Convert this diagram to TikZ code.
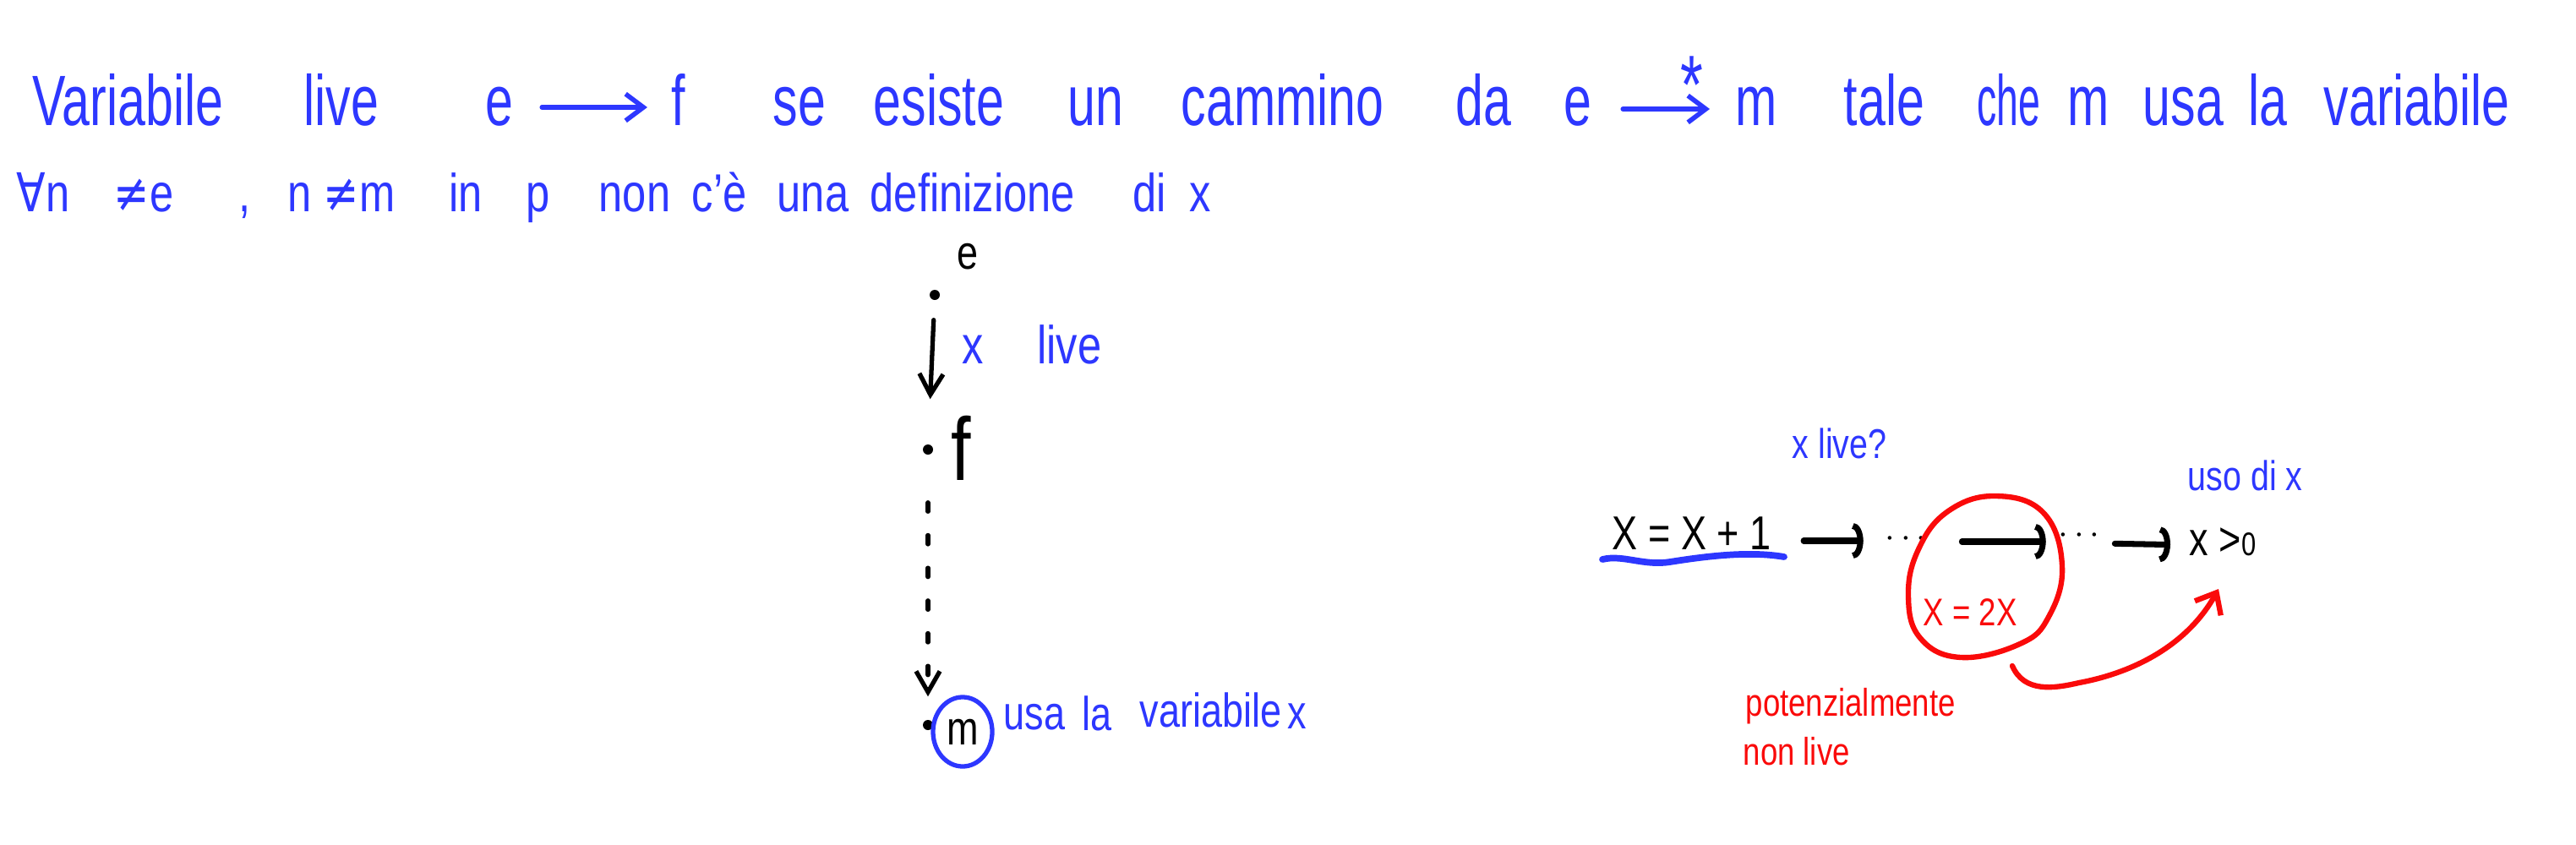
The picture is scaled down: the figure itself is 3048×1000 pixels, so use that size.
\documentclass[tikz,border=0pt]{standalone}
\usepackage{fontspec}
\setmainfont[FakeStretch=0.8]{Liberation Sans}
\newfontfamily\condf[FakeStretch=0.7]{Liberation Sans}
\newfontfamily\narrf[FakeStretch=0.55]{Liberation Sans}
\newfontfamily\symf[FakeStretch=0.8]{DejaVu Sans}
\usetikzlibrary{arrows.meta,shapes.geometric,calc}
\definecolor{hblue}{RGB}{45,55,255}
\definecolor{hred}{RGB}{250,10,10}
\tikzset{
  txt/.style={inner sep=0pt, anchor=base west},
  lone/.style={txt, text=hblue, font={\condf\fontsize{24}{28}\selectfont}},
  ltwo/.style={txt, text=hblue, font={\fontsize{18}{22}\selectfont}},
  midb/.style={txt, text=black, font={\fontsize{16}{20}\selectfont}},
  midbl/.style={txt, text=hblue, font={\fontsize{16}{20}\selectfont}},
  rblack/.style={txt, text=black, font={\fontsize{16}{20}\selectfont}},
  rblue/.style={txt, text=hblue, font={\fontsize{14}{18}\selectfont}},
  rred/.style={txt, text=hred, font={\fontsize{13}{16}\selectfont}},
  dotn/.style={circle, fill=black, inner sep=0pt, minimum size=0.12cm},
  tarr/.style={hblue, line width=1.6pt, line cap=round, -{Straight Barb[length=6pt,width=9pt]}},
  varr/.style={black, line width=1.5pt, line cap=round, -{Straight Barb[length=7pt,width=8pt]}},
  rarr/.style={black, line width=2pt, line cap=round, -{Arc Barb[length=3.5pt,width=12pt]}},
  dotsn/.style={inner sep=0pt, text=black, font={\fontsize{12}{14}\selectfont}}
}
\begin{document}
\begin{tikzpicture}[x=0.01cm,y=-0.01cm]
\useasboundingbox (0,0) rectangle (3048,1000);
\fill[white] (0,0) rectangle (3048,1000);

% line 1
\node[lone] (w1) at (38,148) {Variabile};
\node[lone] (w2) at (359,148) {live};
\node[lone] (e1) at (574,148) {e};
\node[lone] (f1) at (794,148) {f};
\node[lone] (w3) at (914,148) {se};
\node[lone] (w4) at (1033,148) {esiste};
\node[lone] (w5) at (1263,148) {un};
\node[lone] (w6) at (1397,148) {cammino};
\node[lone] (w7) at (1722,148) {da};
\node[lone] (e2) at (1850,148) {e};
\node[lone] (m1) at (2053,148) {m};
\node[lone] (w8) at (2181,148) {tale};
\node[lone, font={\narrf\fontsize{24}{28}\selectfont}] (w9) at (2339,148) {che};
\node[lone] (w10) at (2446,148) {m};
\node[lone] (w11) at (2535,148) {usa};
\node[lone] (w12) at (2660,148) {la};
\node[lone] (w13) at (2749,148) {variabile};
\node[txt, text=hblue, font={\condf\fontsize{28}{32}\selectfont}] (star) at (1988,134) {*};
\draw[tarr, shorten <=0.33cm, shorten >=0.28cm] ($(e1.base east)+(0,-21)$) -- ($(f1.base west)+(0,-21)$);
\draw[tarr, shorten <=0.36cm, shorten >=0.30cm] ($(e2.base east)+(0,-19)$) -- ($(m1.base west)+(0,-19)$);

% line 2
\node[ltwo] (v1) at (19,250) {{\symf ∀}n};
\node[ltwo] (v2) at (134,250) {{\symf ≠}e};
\node[ltwo] (v3) at (282,250) {,};
\node[ltwo] (v4) at (340,250) {n {\symf ≠}m};
\node[ltwo] (v5) at (531,250) {in};
\node[ltwo] (v6) at (622,250) {p};
\node[ltwo] (v7) at (708,250) {non};
\node[ltwo] (v8) at (818,250) {c'è};
\node[ltwo] (v9) at (919,250) {una};
\node[ltwo] (v10) at (1029,250) {definizione};
\node[ltwo] (v11) at (1340,250) {di};
\node[ltwo] (v12) at (1407,250) {x};

% middle diagram
\node[dotn] (de) at (1106,349) {};
\node[dotn] (df) at (1098,532) {};
\node[dotn] (dm) at (1098,858) {};
\node[midb] (le) at (1132,318) {e};
\node[txt, text=black, font={\fontsize{30}{34}\selectfont}] (lf) at (1125,568) {f};
\node[txt, text=hblue, font={\fontsize{18}{22}\selectfont}] (xl) at (1138,430) {x\quad live};
\node[ellipse, draw=hblue, line width=1.5pt, inner sep=0pt, minimum width=0.7cm, minimum height=0.82cm, text=black, font={\fontsize{16}{20}\selectfont}] (mm) at (1139,866) {m};
\draw[varr, shorten <=0.23cm, shorten >=0.53cm] (de) -- (df);
\draw[varr, dash pattern=on 3pt off 8pt, shorten <=0.56cm, shorten >=0.27cm] (df) -- (dm);
\node[midbl] (u1) at (1187,863) {usa};
\node[midbl] (u2) at (1280,864) {la};
\node[midbl] (u3) at (1348,860) {variabile};
\node[midbl] (u4) at (1523,862) {x};

% right diagram
\node[rblue] (q1) at (2120,542) {x live?};
\node[rblue] (q2) at (2588,580) {uso di x};
\node[rblack] (n1) at (1907,650) {X = X + 1};
\node[dotsn] (d1) at (2255,638) {$\cdots$};
\node[dotsn] (d2) at (2460,634) {$\cdots$};
\node[rblack] (n2) at (2590,657) {x >{\fontsize{11}{12}\selectfont 0}};
\draw[rarr, shorten <=0.38cm, shorten >=0.25cm] ($(n1.base east)+(0,-10)$) -- ($(d1.west)+(0,2)$);
\draw[rarr, shorten <=0.41cm, shorten >=0.14cm] ($(d1.east)+(0,3)$) -- ($(d2.west)+(0,7)$);
\draw[rarr, shorten <=0.17cm, shorten >=0.22cm] ($(d2.east)+(0,9)$) -- ($(n2.base west)+(0,-12)$);
\draw[hblue, line width=2.2pt, line cap=round] (1896,662) .. controls (1920,656) and (1945,670) .. (1976,665) .. controls (2020,658) and (2070,652) .. (2111,659);

\draw[hred, line width=1.8pt] plot[smooth cycle, tension=0.7] coordinates {(2361,587) (2418,607) (2440,670) (2424,730) (2390,762) (2320,778) (2272,755) (2258,705) (2270,650) (2305,605)};
\node[rred, font={\fontsize{13}{16}\selectfont}] (x2) at (2275,740) {X = 2X};
\coordinate (ra) at (2381,788);
\coordinate (rb) at (2625,697);
\draw[hred, line width=1.8pt, line cap=round, -{Straight Barb[length=6pt,width=10pt]}] (ra) .. controls (2395,820) and (2430,815) .. (2460,808) .. controls (2530,795) and (2590,760) .. (rb);
\node[rred] (p1) at (2065,847) {potenzialmente};
\node[rred] (p2) at (2062,905) {non live};
\end{tikzpicture}
\end{document}
